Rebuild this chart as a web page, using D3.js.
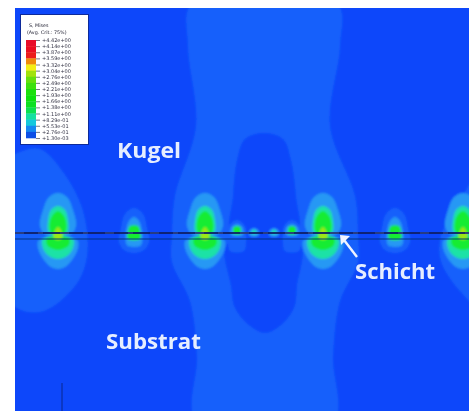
<!DOCTYPE html>
<html>
<head>
<meta charset="utf-8">
<script src="https://cdn.jsdelivr.net/npm/d3@7"></script>
<style>
  html, body { margin: 0; padding: 0; background: #fff; }
  svg { display: block; }
</style>
</head>
<body>
<div id="chart"></div>
<script>
// legend of the stress plot, top to bottom
const legendTitle = ["S, Mises", "(Avg. Crit.: 75%)"];
const legendValues = ["+4.42e+00", "+4.14e+00", "+3.87e+00", "+3.59e+00", "+3.32e+00", "+3.04e+00",
  "+2.76e+00", "+2.49e+00", "+2.21e+00", "+1.93e+00", "+1.66e+00", "+1.38e+00",
  "+1.11e+00", "+8.29e-01", "+5.53e-01", "+2.76e-01", "+1.30e-03"];
const legendColors = ["#e8102c", "#ea0f24", "#ec1a1a", "#f08a10", "#f4ee12", "#a2e210",
  "#66e010", "#3ee010", "#1ee010", "#10e010", "#10e024", "#10e050",
  "#14e0a0", "#14c8dc", "#1488f2", "#1050e6"];

const bandColors = { base: "#0b47fa", l1: "#1661fb", l2: "#2898f4", l3: "#1fe2a6", l4: "#16ec30", l5: "#9ce814" };

// stress concentrations along the layer, model x
const bigSpots = [43, 190, 308, 448];
const midSpots = [119, 380];
const smallSpots = [222, 277];
const tinySpots = [239, 259];

// contour outlines in model units, y measured from the layer (up is positive)
const centreRegion = [[177, 232], [173, 190], [181, 110], [160, 40], [157, 0], [157, -26], [175, -65],
  [182, -120], [182, -185], [318, -185], [318, -120], [325, -65], [343, -26], [343, 0], [340, 40],
  [315, 110], [325, 190], [322, 232]];
const centreHoleUp = [[249, 103], [230, 97], [222, 76], [218, 40], [217, 0], [282, 0], [281, 40], [276, 76], [268, 97]];
const centreHoleDown = [[212, -8], [216, -50], [220, -72], [235, -90], [250, -97], [265, -90], [279, -72], [282, -50], [285, -8]];
const leftRegion = [[-15, 70], [5, 84], [25, 87], [48, 64], [68, 25], [72, -20], [60, -50], [25, -76], [-5, -66]];
const rightRegion = [[470, 72], [445, 35], [426, 0], [426, -25], [445, -55], [470, -75]];

const bigUp = {
  l2: [[0, 43], [9, 39], [15, 26], [18, 10], [12, 1], [-12, 1], [-18, 10], [-15, 26], [-9, 39]],
  l3: [[0, 30], [7, 26], [10, 15], [10, 5], [6, 1], [-6, 1], [-10, 5], [-10, 15], [-7, 26]],
  l4: [[0, 25], [6, 20], [8.5, 11], [7, 3], [3, 0], [-3, 0], [-7, 3], [-8.5, 11], [-6, 20]],
  l5: [[0, 9], [3, 5], [3, 0], [-3, 0], [-3, 5]]
};
const bigDown = {
  l2: [[-19, -4], [-20, -12], [-14, -24], [-7, -31], [0, -33], [7, -31], [14, -24], [20, -12], [19, -4]],
  l3: [[-15, -3], [-15, -12], [-9, -20], [0, -23], [9, -20], [15, -12], [15, -3]],
  l4: [[-11, -2], [-11, -9], [-5, -13], [0, -14], [5, -13], [11, -9], [11, -2]],
  l5: [[-4, 3], [4, 3], [3, -3], [-3, -3]]
};
const midShape = {
  l1: [[0, 28], [9, 22], [13, 8], [15, -6], [10, -14], [0, -17], [-10, -14], [-15, -6], [-13, 8], [-9, 22]],
  l2: [[0, 19], [5, 15], [8, 5], [8, -7], [6, -10], [-6, -10], [-8, -7], [-8, 5], [-5, 15]],
  l4: [[-4, 10], [4, 10], [6, 5], [6, -3], [-6, -3], [-6, 5]]
};
const smallShape = {
  l1: [[0, 16], [8, 10], [9, -6], [7, -15], [-7, -15], [-9, -6], [-8, 10]],
  l2: [[0, 12], [6, 8], [6, 1], [-6, 1], [-6, 8]],
  l4: [[-3, 9], [3, 9], [4, 5], [3, 2], [-3, 2], [-4, 5]]
};
const tinyShape = {
  l2: [[0, 8], [4, 6], [5, 3], [4, 0], [-4, 0], [-5, 3], [-4, 6]],
  l3: [[0, 6], [2, 5], [2, 2], [-2, 2], [-2, 5]]
};

const layerLevels = [3, -3];   // the two faces of the layer
const materialNames = ["Kugel", "Substrat", "Schicht"];

const width = 476, height = 411;
const plot = { left: 15, right: 469, top: 8, bottom: 411 };

// 1 model unit is 1 px here, layer centre sits at y = 236
const x = d3.scaleLinear().domain([0, 454]).range([plot.left, plot.right]);
const y = d3.scaleLinear().domain([228, -175]).range([plot.top, plot.bottom]);

const svg = d3.select("#chart").append("svg").attr("width", width).attr("height", height);
const defs = svg.append("defs");
defs.append("clipPath").attr("id", "plot-clip").append("rect")
  .attr("x", plot.left).attr("y", plot.top)
  .attr("width", plot.right - plot.left).attr("height", plot.bottom - plot.top);
[["soft", 1.0], ["softer", 0.5]].forEach(([id, dev]) => {
  defs.append("filter").attr("id", id).attr("x", "-5%").attr("y", "-5%").attr("width", "110%").attr("height", "110%")
    .append("feGaussianBlur").attr("stdDeviation", dev);
});

const field = svg.append("g").attr("clip-path", "url(#plot-clip)").append("g").attr("filter", "url(#soft)");
field.append("rect").attr("x", plot.left - 10).attr("y", plot.top - 10)
  .attr("width", plot.right - plot.left + 20).attr("height", plot.bottom - plot.top + 20)
  .attr("fill", bandColors.base);

function outline(offset) {
  return d3.line().x(d => x(offset + d[0])).y(d => y(d[1])).curve(d3.curveCatmullRomClosed.alpha(0.5));
}
function addShape(points, color, offset = 0) {
  field.append("path").attr("d", outline(offset)(points)).attr("fill", color);
}

[leftRegion, rightRegion, centreRegion].forEach(r => addShape(r, bandColors.l1));
addShape(centreHoleUp, bandColors.base);
addShape(centreHoleDown, bandColors.base);

const levels = ["l1", "l2", "l3", "l4", "l5"];
function addSpot(shape, offset) {
  levels.forEach(l => { if (shape[l]) addShape(shape[l], bandColors[l], offset); });
}
bigSpots.forEach(s => { addSpot(bigUp, s); addSpot(bigDown, s); });
midSpots.forEach(s => addSpot(midShape, s));
smallSpots.forEach(s => addSpot(smallShape, s));
tinySpots.forEach(s => addSpot(tinyShape, s));

// the thin layer itself
const layer = svg.append("g").attr("clip-path", "url(#plot-clip)").attr("filter", "url(#softer)");
layer.selectAll("line.face").data(layerLevels).join("line").attr("class", "face")
  .attr("x1", plot.left).attr("x2", plot.right)
  .attr("y1", d => y(d)).attr("y2", d => y(d))
  .attr("stroke", (d, i) => i ? "#0b2f74" : "#0a1c66")
  .attr("stroke-opacity", 0.9)
  .attr("stroke-width", (d, i) => i ? 1.2 : 2.2);
layer.append("line").attr("x1", plot.left).attr("x2", plot.right)
  .attr("y1", y(layerLevels[0])).attr("y2", y(layerLevels[0]))
  .attr("stroke", "#6f7fa8").attr("stroke-opacity", 0.6).attr("stroke-width", 1)
  .attr("stroke-dasharray", "9 14 5 17");

// small axis stub at the bottom
svg.append("line").attr("x1", x(47)).attr("x2", x(47)).attr("y1", y(-147)).attr("y2", y(-175))
  .attr("stroke", "#0a1c66").attr("stroke-width", 0.9).attr("stroke-opacity", 0.8);

// legend
const legend = svg.append("g").attr("filter", "url(#softer)");
legend.append("rect").attr("x", 20.5).attr("y", 14.5).attr("width", 68).attr("height", 130)
  .attr("fill", "#fff").attr("stroke", "#0a2a9a");
legend.selectAll("text.title").data(legendTitle).join("text").attr("class", "title")
  .attr("x", (d, i) => i ? 27 : 29).attr("y", (d, i) => i ? 34 : 27)
  .attr("font-family", "DejaVu Sans").attr("font-size", 4.8).attr("fill", "#223").text(d => d);

const legendScale = d3.scalePoint().domain(legendValues).range([40, 138]);
legend.selectAll("rect.band").data(legendColors).join("rect").attr("class", "band")
  .attr("x", 26).attr("width", 10)
  .attr("y", (d, i) => legendScale(legendValues[i]))
  .attr("height", legendScale.step() + 0.3)
  .attr("fill", d => d);
const legendAxis = legend.append("g").attr("transform", "translate(36,0)")
  .call(d3.axisRight(legendScale).tickSize(4).tickPadding(2));
legendAxis.select(".domain").remove();
legendAxis.selectAll("text").attr("font-family", "DejaVu Sans").attr("font-size", 5).attr("fill", "#334");
legendAxis.selectAll("line").attr("stroke", "#223").attr("stroke-width", 0.6);

// annotations
const notes = svg.append("g").attr("filter", "url(#softer)")
  .attr("font-family", "Open Sans").attr("font-weight", 700).attr("font-size", 22).attr("fill", "#e6eeff");
notes.append("text").attr("x", x(102)).attr("y", y(78)).attr("textLength", 64).attr("lengthAdjust", "spacingAndGlyphs").text(materialNames[0]);
notes.append("text").attr("x", x(91)).attr("y", y(-113)).attr("textLength", 95).attr("lengthAdjust", "spacingAndGlyphs").text(materialNames[1]);
notes.append("text").attr("x", x(340)).attr("y", y(-43)).attr("textLength", 80).attr("lengthAdjust", "spacingAndGlyphs").text(materialNames[2]);

const tip = [x(325), y(1)], tail = [x(342), y(-21)];
const arrow = d3.path();
arrow.moveTo(tail[0], tail[1]);
arrow.lineTo(tip[0] + 4, tip[1] + 5);
notes.append("path").attr("d", arrow.toString()).attr("fill", "none").attr("stroke", "#f0f4ff").attr("stroke-width", 2.4);
notes.append("path").attr("fill", "#f0f4ff")
  .attr("d", d3.line()([tip, [tip[0] + 10, tip[1] + 1], [tip[0] + 1, tip[1] + 10]]));
</script>
</body>
</html>
